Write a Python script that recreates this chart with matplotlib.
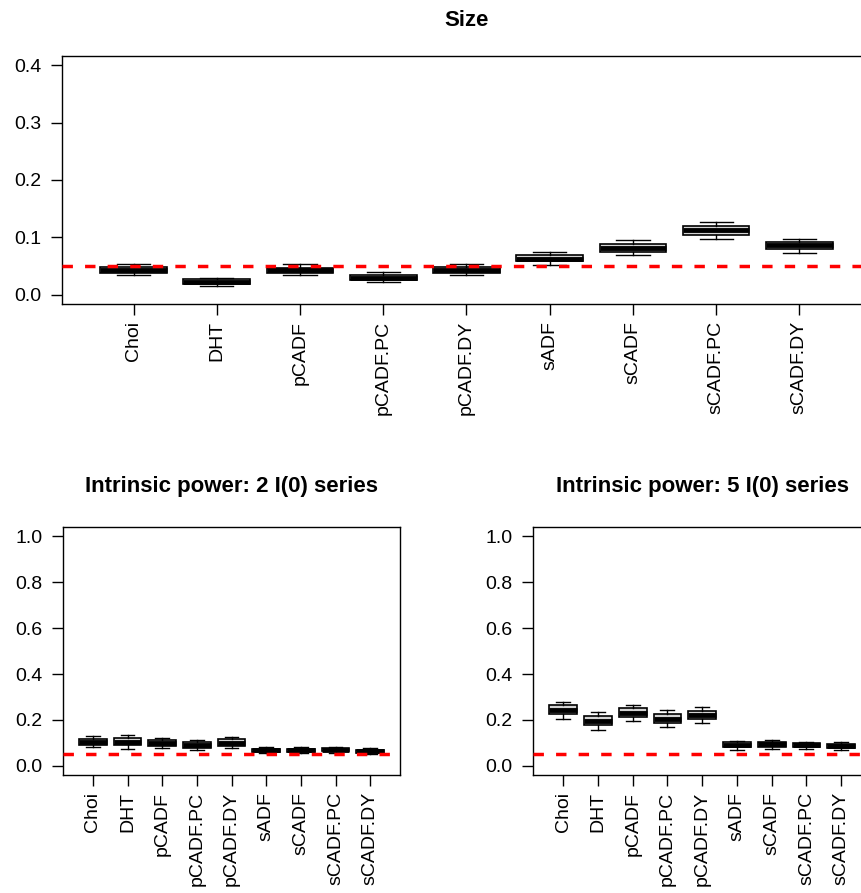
import matplotlib.pyplot as plt

plt.rcParams["font.family"] = ["Liberation Sans", "DejaVu Sans"]

# Tests compared in every panel
methods = ["Choi", "DHT", "pCADF", "pCADF.PC", "pCADF.DY",
           "sADF", "sCADF", "sCADF.PC", "sCADF.DY"]

# Size: lower whisker, Q1, median, Q3, upper whisker
size_lo = [0.034, 0.015, 0.035, 0.023, 0.034, 0.052, 0.070, 0.098, 0.073]
size_q1 = [0.038, 0.018, 0.038, 0.026, 0.038, 0.058, 0.075, 0.105, 0.079]
size_med = [0.043, 0.022, 0.044, 0.030, 0.043, 0.063, 0.082, 0.112, 0.086]
size_q3 = [0.048, 0.027, 0.047, 0.035, 0.048, 0.069, 0.089, 0.120, 0.092]
size_hi = [0.053, 0.030, 0.053, 0.040, 0.053, 0.075, 0.095, 0.126, 0.098]

# Intrinsic power, 2 I(0) series
pow2_lo = [0.082, 0.074, 0.077, 0.067, 0.077, 0.055, 0.055, 0.057, 0.052]
pow2_q1 = [0.092, 0.089, 0.087, 0.078, 0.087, 0.062, 0.062, 0.064, 0.058]
pow2_med = [0.105, 0.105, 0.100, 0.090, 0.100, 0.068, 0.068, 0.070, 0.064]
pow2_q3 = [0.118, 0.121, 0.113, 0.103, 0.115, 0.075, 0.074, 0.076, 0.070]
pow2_hi = [0.128, 0.134, 0.123, 0.113, 0.125, 0.082, 0.082, 0.083, 0.076]

# Intrinsic power, 5 I(0) series
pow5_lo = [0.205, 0.156, 0.195, 0.170, 0.186, 0.070, 0.074, 0.075, 0.068]
pow5_q1 = [0.224, 0.177, 0.212, 0.188, 0.202, 0.080, 0.083, 0.082, 0.076]
pow5_med = [0.243, 0.196, 0.231, 0.206, 0.221, 0.091, 0.093, 0.091, 0.086]
pow5_q3 = [0.263, 0.217, 0.250, 0.227, 0.238, 0.102, 0.104, 0.100, 0.096]
pow5_hi = [0.279, 0.235, 0.266, 0.244, 0.256, 0.110, 0.112, 0.106, 0.102]

nominal = 0.05


def draw_panel(ax, lo, q1, med, q3, hi, ymax, ystep, title, pad):
    stats = []
    for i in range(len(methods)):
        stats.append({"whislo": lo[i], "q1": q1[i], "med": med[i],
                      "q3": q3[i], "whishi": hi[i], "fliers": []})
    pos = list(range(1, len(methods) + 1))
    ax.bxp(stats, positions=pos, widths=0.8, capwidths=0.4,
           patch_artist=True, showfliers=False,
           boxprops=dict(facecolor="lightgrey", edgecolor="black", linewidth=1.2),
           medianprops=dict(color="black", linewidth=3.5, solid_capstyle="butt"),
           whiskerprops=dict(color="black", linewidth=1),
           capprops=dict(color="black", linewidth=1))
    # nominal 5% level
    ax.axhline(nominal, color="red", linestyle=(0, (3.0, 3.5)),
               linewidth=2.5, zorder=5)
    ext = 0.04 * ymax
    ax.set_xlim(0.14, 9.86)
    ax.set_ylim(-ext, ymax + ext)
    ax.set_xticks(pos, methods, rotation=90)
    nt = int(round(ymax / ystep)) + 1
    yt = [i * ystep for i in range(nt)]
    ax.set_yticks(yt, ["%.1f" % v for v in yt])
    ax.tick_params(direction="out", length=8, width=1, labelsize=14,
                   colors="black")
    ax.tick_params(axis="y", pad=7)
    ax.tick_params(axis="x", pad=4)
    for s in ax.spines.values():
        s.set_linewidth(1)
    ax.set_title(title, fontsize=16, fontweight="bold", pad=pad)


fig = plt.figure(figsize=(8.62, 8.93), dpi=100)

ax_top = fig.add_axes([0.0719, 0.6596, 0.9385, 0.2777])
draw_panel(ax_top, size_lo, size_q1, size_med, size_q3, size_hi,
           0.4, 0.1, "Size", 21.6)

ax_bl = fig.add_axes([0.0731, 0.1321, 0.391, 0.2777])
draw_panel(ax_bl, pow2_lo, pow2_q1, pow2_med, pow2_q3, pow2_hi,
           1.0, 0.2, "Intrinsic power: 2 I(0) series", 25.2)

ax_br = fig.add_axes([0.6187, 0.1321, 0.3918, 0.2777])
draw_panel(ax_br, pow5_lo, pow5_q1, pow5_med, pow5_q3, pow5_hi,
           1.0, 0.2, "Intrinsic power: 5 I(0) series", 25.2)

fig.savefig("out.png", dpi=100)
